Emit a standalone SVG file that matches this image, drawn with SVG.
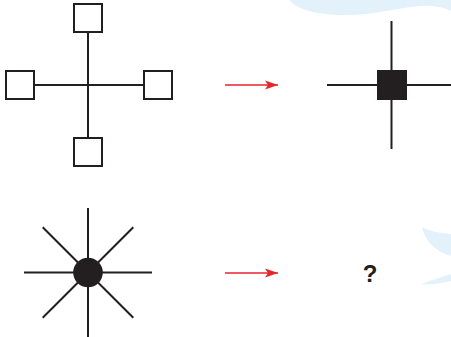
<svg xmlns="http://www.w3.org/2000/svg" width="451" height="337" viewBox="0 0 451 337">
<defs>
<style>
.ln{stroke:#231f20;stroke-width:2;fill:none}
.bx{stroke:#231f20;stroke-width:2;fill:#fff}
.dk{fill:#231f20}
.deco{fill:#e3f1fb}
.ar{stroke:#e8232a;stroke-width:1.4;fill:none}
.q{font-family:"Liberation Sans",Arial,sans-serif;font-weight:bold;font-size:24px;fill:#231f20}
</style>
<marker id="arr" markerWidth="14" markerHeight="10" refX="13" refY="5" orient="auto" markerUnits="userSpaceOnUse">
<path d="M0,0.5 L13,5 L0,9.5 L3,5 Z" fill="#e8232a"/>
</marker>
</defs>
<rect width="451" height="337" fill="#fff"/>
<g id="background">
<path class="deco" d="M289,0 C298,10 318,15 345,15 C375,15 395,8 420,6 C435,5 445,8 451,11 L451,0 Z"/>
<path class="deco" d="M422,227 C425,242 437,252 451,256 L451,234 C440,233 429,231 422,227 Z"/>
<path class="deco" d="M421,284 C432,280 442,277 451,274 L451,281 C442,283 432,285 421,284 Z"/>
</g>
<g id="connectors">
<line class="ar" x1="225" y1="85" x2="278" y2="85" marker-end="url(#arr)"/>
<line class="ar" x1="225" y1="273" x2="278" y2="273" marker-end="url(#arr)"/>
</g>
<g id="cross-boxes">
<line class="ln" x1="88" y1="32" x2="88" y2="138"/>
<line class="ln" x1="34" y1="85" x2="144" y2="85"/>
<rect class="bx" x="74" y="4" width="28" height="28"/>
<rect class="bx" x="74" y="138" width="28" height="28"/>
<rect class="bx" x="6" y="71" width="28" height="28"/>
<rect class="bx" x="144" y="71" width="28" height="28"/>
</g>
<g id="cross-square">
<line class="ln" x1="391.5" y1="21" x2="391.5" y2="149"/>
<line class="ln" x1="327" y1="85" x2="451" y2="85"/>
<rect class="dk" x="377" y="70" width="30" height="30"/>
</g>
<g id="star">
<line class="ln" x1="88" y1="208" x2="88" y2="337"/>
<line class="ln" x1="24" y1="272.5" x2="152" y2="272.5"/>
<line class="ln" x1="42.7" y1="227.2" x2="133.3" y2="317.8"/>
<line class="ln" x1="133.3" y1="227.2" x2="42.7" y2="317.8"/>
<circle class="dk" cx="88" cy="272.5" r="14.8"/>
</g>
<g id="question">
<text class="q" x="370" y="282" text-anchor="middle">?</text>
</g>
</svg>
